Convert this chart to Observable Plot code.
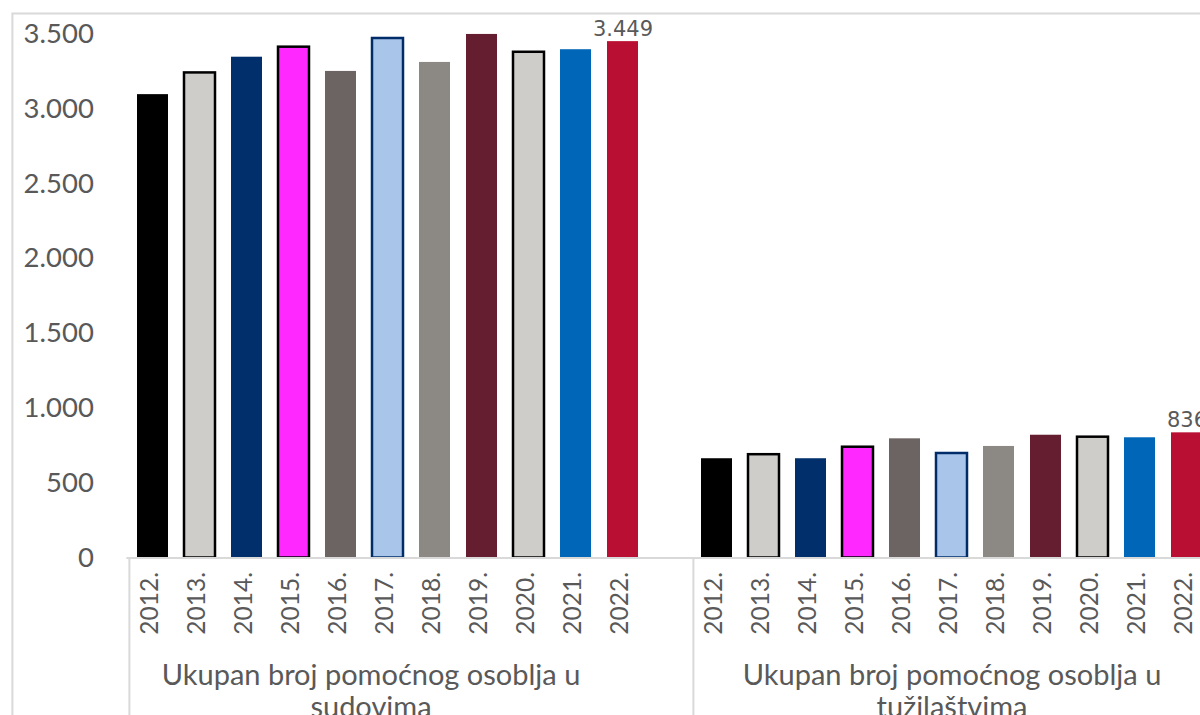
<!DOCTYPE html>
<html>
<head>
<meta charset="utf-8">
<script src="https://cdn.jsdelivr.net/npm/d3@7"></script>
<script src="https://cdn.jsdelivr.net/npm/@observablehq/plot@0.6"></script>
<style>
  html, body { margin: 0; padding: 0; background: #ffffff; overflow: hidden; width: 1200px; height: 715px; }
  #chart { position: absolute; left: 0; top: 0; }
</style>
</head>
<body>
<div id="chart"></div>
<script>
// ---- data ----
const years = ["2012", "2013", "2014", "2015", "2016", "2017", "2018", "2019", "2020", "2021", "2022"];
const sudovi = [3095, 3240, 3345, 3412, 3250, 3470, 3310, 3497, 3378, 3395, 3449];
const tuzilastva = [663, 690, 663, 740, 796, 698, 745, 820, 807, 803, 836];
const groupLabels = ["Ukupan broj pomoćnog osoblja u\nsudovima", "Ukupan broj pomoćnog osoblja u\ntužilaštvima"];
const barColors = ["#000000", "#cfcdc9", "#002f6b", "#ff28ff", "#6c6462", "#a9c6ea", "#8c8883", "#641e30", "#cfcdc9", "#0066b8", "#b90f32"];
const barStrokes = ["none", "#000000", "none", "#000000", "none", "#002d6a", "none", "none", "#000000", "none", "none"];
const yTicks = [0, 500, 1000, 1500, 2000, 2500, 3000, 3500];

// ---- build table ----
const sKeys = years.map(y => "s" + y);
const tKeys = years.map(y => "t" + y);
const domain = [...sKeys, "gap", ...tKeys];
const rows = [
  ...years.map((y, i) => ({key: sKeys[i], value: sudovi[i], fill: barColors[i], stroke: barStrokes[i]})),
  ...years.map((y, i) => ({key: tKeys[i], value: tuzilastva[i], fill: barColors[i], stroke: barStrokes[i]}))
];
const lastRows = [rows[years.length - 1], rows[rows.length - 1]];
const loc = d3.formatLocale({decimal: ",", thousands: ".", grouping: [3], currency: ["", ""]});
const fmt = loc.format(",");
const grey = "#595959";
const lineGrey = "#d9d9d9";

const chart = Plot.plot({
  width: 1260,
  height: 715,
  marginLeft: 126.4,
  marginRight: 48,
  marginTop: 33.5,
  marginBottom: 157.5,
  style: {maxWidth: "none", overflow: "visible", background: "#ffffff", fontFamily: "Lato, sans-serif"},
  x: {domain, padding: 0, axis: null},
  y: {domain: [0, 3500], axis: null},
  color: {type: "identity"},
  marks: [
    Plot.frame({stroke: lineGrey, strokeWidth: 2, insetLeft: -114.5, insetTop: -20.5, insetBottom: -300, insetRight: -300}),
    Plot.barY(rows, {x: "key", y: "value", fill: "fill", stroke: "stroke", strokeWidth: 2.5, insetLeft: 8, insetRight: 8}),
    Plot.ruleY([0], {stroke: lineGrey, strokeWidth: 2}),
    Plot.ruleX([sKeys[0], tKeys[0]], {x: d => d, dx: -23.6, y1: 0, y2: -1200, stroke: lineGrey, strokeWidth: 2}),
    Plot.axisY({ticks: yTicks, tickFormat: fmt, tickSize: 0, tickPadding: 33, fontSize: 27.5, color: grey, label: null}),
    Plot.axisX({ticks: [...sKeys, ...tKeys], tickFormat: k => k.slice(1) + ".", tickRotate: -90, tickSize: 0, tickPadding: 14, fontSize: 24.5, dx: -3, color: grey, label: null}),
    Plot.text([sKeys[5]], {x: d => d, text: () => groupLabels[0], frameAnchor: "bottom", lineAnchor: "top", dy: 104, dx: -17, fontSize: 29, lineHeight: 1.1, fill: grey}),
    Plot.text([tKeys[5]], {x: d => d, text: () => groupLabels[1], frameAnchor: "bottom", lineAnchor: "top", dy: 104, fontSize: 29, lineHeight: 1.1, fill: grey}),
    Plot.text(lastRows, {x: "key", y: "value", text: d => fmt(d.value), lineAnchor: "bottom", dy: -6, fontFamily: "DejaVu Sans", fontSize: 21, fill: grey})
  ]
});
document.getElementById("chart").appendChild(chart);
</script>
</body>
</html>
